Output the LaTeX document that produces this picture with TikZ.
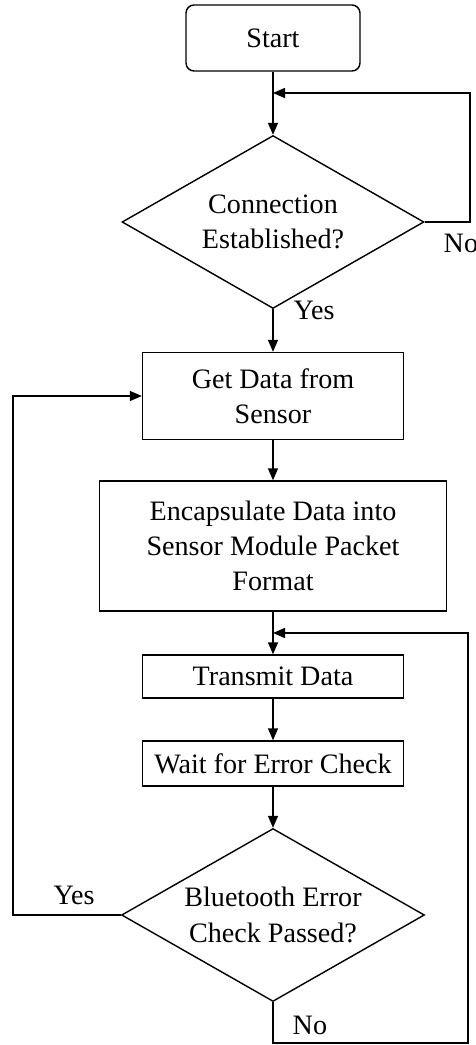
\documentclass[tikz,border=0pt]{standalone}
\usepackage{fontspec}
\setmainfont{Liberation Serif}
\usetikzlibrary{shapes.geometric,arrows.meta}

\tikzset{
  >={Triangle[length=0.24cm,width=0.2cm]},
  box/.style={draw,align=center,inner sep=0pt,font=\fontsize{16}{20}\selectfont},
  test/.style={draw,diamond,aspect=1.75,align=center,inner sep=0pt,minimum width=6.04cm,minimum height=3.46cm,font=\fontsize{16}{20}\selectfont},
  lbl/.style={anchor=west,inner sep=0pt,font=\fontsize{16}{20}\selectfont},
}

\begin{document}
\begin{tikzpicture}[x=0.02cm,y=-0.02cm,line width=0.8pt]
	\useasboundingbox (0,0) rectangle (476,1045);
	% blocks
	\node[box,rounded corners=0.16cm,minimum width=3.48cm,minimum height=1.32cm] (start) at (273,38) {Start};
	\node[test] (conn) at (273,222) {Connection\\Established?};
	\node[box,minimum width=5.22cm,minimum height=1.74cm] (getdata) at (273,396) {Get Data from\\Sensor};
	\node[box,minimum width=6.94cm,minimum height=2.6cm] (encap) at (273,546) {Encapsulate Data into\\Sensor Module Packet\\Format};
	\node[box,minimum width=5.22cm,minimum height=0.86cm] (transmit) at (273,676.5) {Transmit Data};
	\node[box,minimum width=5.22cm,minimum height=0.9cm] (wait) at (273,763.5) {Wait for Error Check};
	\node[test,minimum width=6.06cm] (check) at (273,915) {Bluetooth Error\\Check Passed?};
	% labels
	\node[lbl] (no1) at (443,243) {No};
	\node[lbl] (yes1) at (293,310) {Yes};
	\node[lbl] (yes2) at (53,895) {Yes};
	\node[lbl] (no2) at (292,1025) {No};
	% loop corners
	\coordinate (r1) at (470,93);
	\coordinate (j1) at (273,93);
	\coordinate (l1) at (13,396);
	\coordinate (b2) at (273,1043);
	\coordinate (r2) at (468,633);
	\coordinate (j2) at (273,633);
	% arrows
	\draw[->] (start) -- (conn);
	\draw[->] (conn.east) -| (r1) -- (j1);
	\draw[->] (conn) -- (getdata);
	\draw[->] (getdata) -- (encap);
	\draw[->] (encap) -- (transmit);
	\draw[->] (transmit) -- (wait);
	\draw[->] (wait) -- (check);
	\draw[->] (check.west) -| (l1) -- (getdata.west);
	\draw[->] (check.south) -- (b2) -| (r2) -- (j2);
\end{tikzpicture}
\end{document}
